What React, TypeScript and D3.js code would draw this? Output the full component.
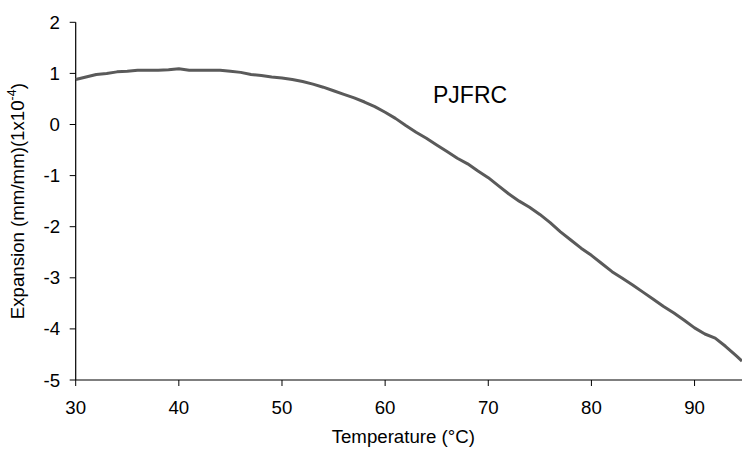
import React, { useEffect, useRef } from "react";
import * as d3 from "d3";

const temperatures: number[] = [
  30, 31, 32, 33, 34, 35, 36, 37, 38, 39, 40, 41, 42, 43, 44, 45, 46, 47, 48, 49,
  50, 51, 52, 53, 54, 55, 56, 57, 58, 59, 60, 61, 62, 63, 64, 65, 66, 67, 68, 69,
  70, 71, 72, 73, 74, 75, 76, 77, 78, 79, 80, 81, 82, 83, 84, 85, 86, 87, 88, 89,
  90, 91, 92, 93, 94, 94.6,
];
const expansion: number[] = [
  0.88, 0.93, 0.98, 1.0, 1.03, 1.04, 1.06, 1.06, 1.06, 1.07, 1.09, 1.06, 1.06, 1.06, 1.06, 1.04, 1.02, 0.98, 0.96, 0.93,
  0.91, 0.88, 0.84, 0.79, 0.73, 0.66, 0.59, 0.52, 0.44, 0.35, 0.24, 0.12, -0.02, -0.15, -0.27, -0.4, -0.53, -0.66, -0.77, -0.91,
  -1.04, -1.2, -1.36, -1.5, -1.62, -1.76, -1.92, -2.1, -2.26, -2.42, -2.56, -2.72, -2.88, -3.01, -3.14, -3.28, -3.42, -3.56, -3.69, -3.83,
  -3.98, -4.1, -4.18, -4.34, -4.52, -4.63,
];
const xTicks: number[] = [30, 40, 50, 60, 70, 80, 90];
const yTicks: number[] = [-5, -4, -3, -2, -1, 0, 1, 2];
const seriesLabel = "PJFRC";
const xTitle = "Temperature (°C)";

const W = 742;
const H = 449;
const FONT = "'Liberation Sans', Arial, sans-serif";
const FS = 18.67;

export default function App() {
  const ref = useRef<SVGSVGElement | null>(null);

  useEffect(() => {
    const svg = d3.select(ref.current);
    svg.selectAll("*").remove();

    const x = d3.scaleLinear().domain([30, 94.6]).range([75.7, 742]);
    const y = d3.scaleLinear().domain([-5, 2]).range([380, 22.3]);

    // Y axis
    const yAxis = svg.append("g").attr("transform", `translate(${x(30)},0)`);
    yAxis.append("line").attr("x1", 0).attr("x2", 0).attr("y1", y(2)).attr("y2", y(-5)).attr("stroke", "#000").attr("stroke-width", 1.2);
    yTicks.forEach((t) => {
      yAxis.append("line").attr("x1", -6).attr("x2", 0).attr("y1", y(t)).attr("y2", y(t)).attr("stroke", "#000").attr("stroke-width", 1);
      yAxis
        .append("text")
        .attr("x", -15.7)
        .attr("y", y(t))
        .attr("dy", "0.35em")
        .attr("text-anchor", "end")
        .attr("font-family", FONT)
        .attr("font-size", FS)
        .attr("fill", "#000")
        .text(String(t));
    });

    // X axis
    const xAxis = svg.append("g").attr("transform", `translate(0,${y(-5)})`);
    xAxis.append("line").attr("x1", x(30)).attr("x2", W).attr("y1", 0).attr("y2", 0).attr("stroke", "#000").attr("stroke-width", 1.2);
    xTicks.forEach((t) => {
      xAxis.append("line").attr("x1", x(t)).attr("x2", x(t)).attr("y1", 0).attr("y2", 6).attr("stroke", "#000").attr("stroke-width", 1);
      xAxis
        .append("text")
        .attr("x", x(t))
        .attr("y", 33.5)
        .attr("text-anchor", "middle")
        .attr("font-family", FONT)
        .attr("font-size", FS)
        .attr("fill", "#000")
        .text(String(t));
    });

    // Axis titles
    svg
      .append("text")
      .attr("x", 403.3)
      .attr("y", 443)
      .attr("text-anchor", "middle")
      .attr("font-family", FONT)
      .attr("font-size", FS)
      .attr("fill", "#000")
      .text(xTitle);

    const yt = svg
      .append("text")
      .attr("transform", `translate(23.5,${(y(2) + y(-5)) / 2}) rotate(-90)`)
      .attr("text-anchor", "middle")
      .attr("font-family", FONT)
      .attr("font-size", FS)
      .attr("fill", "#000");
    yt.append("tspan").text("Expansion (mm/mm)(1x10");
    yt.append("tspan").attr("dy", -8).attr("font-size", 12.5).text("-4");
    yt.append("tspan").attr("dy", 8).text(")");

    // Line
    const pts: [number, number][] = temperatures.map((t, i) => [t, expansion[i]]);
    const line = d3
      .line<[number, number]>()
      .x((d) => x(d[0]))
      .y((d) => y(d[1]));
    svg
      .append("path")
      .datum(pts)
      .attr("d", line)
      .attr("fill", "none")
      .attr("stroke", "#5a5a5a")
      .attr("stroke-width", 3)
      .attr("stroke-linejoin", "round");

    // Label
    svg
      .append("text")
      .attr("x", 433)
      .attr("y", 103.3)
      .attr("font-family", FONT)
      .attr("font-size", 23)
      .attr("fill", "#000")
      .text(seriesLabel);
  }, []);

  return (
    <svg
      ref={ref}
      width={W}
      height={H}
      style={{ position: "absolute", left: 0, top: 0, background: "#fff" }}
    />
  );
}
